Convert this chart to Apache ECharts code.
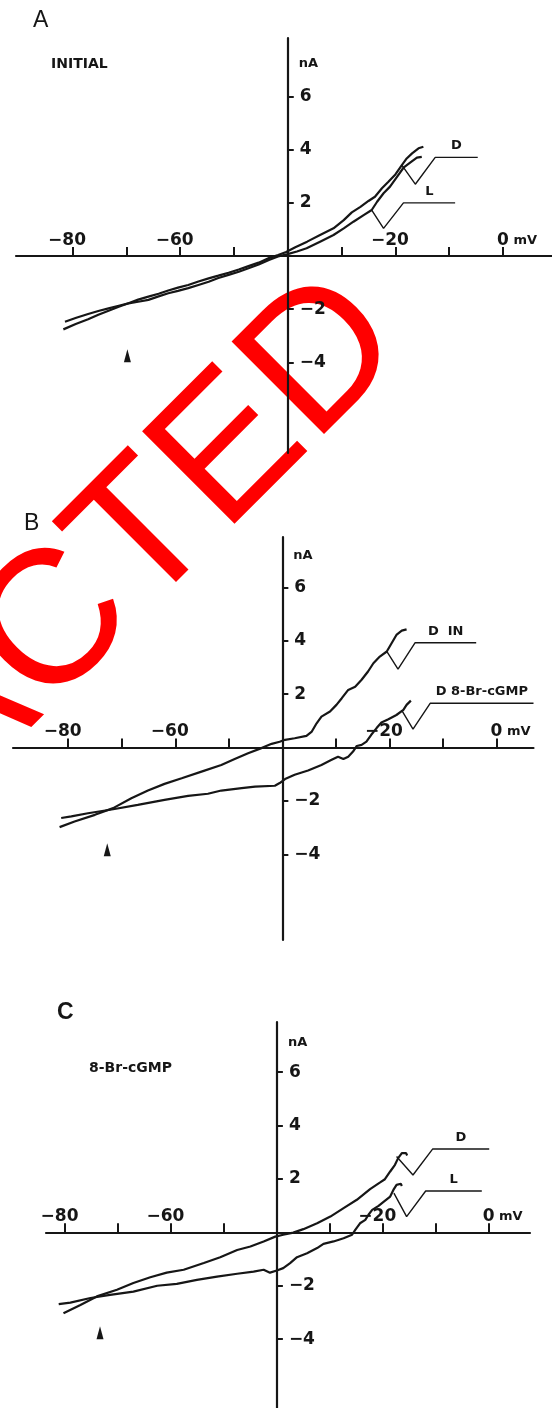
<!DOCTYPE html>
<html><head><meta charset="utf-8">
<style>html,body{margin:0;padding:0;background:#fff}#c{width:552px;height:1408px}</style>
<script src="https://cdn.jsdelivr.net/npm/echarts@6/dist/echarts.min.js"></script>
</head><body><div id="c"></div>
<script>
// ---------- tick values ----------
const xTicks = [-80, -70, -60, -50, -40, -30, -20, -10, 0];
const xTickLabels = [-80, -60, -20, 0];
const yTicks = [-4, -2, 2, 4, 6];
const yAxisCross = -40;   // mV value where the current axis crosses the voltage axis

// ---------- panel texts ----------
const panelLetters = ['A', 'B', 'C'];
const panelSubtitles = ['INITIAL', '', '8-Br-cGMP'];
const curveNamesA = ['D', 'L'];
const curveNamesB = ['D  IN', 'D 8-Br-cGMP'];
const curveNamesC = ['D', 'L'];

// ---------- Panel A (mV, nA) ----------
const A_D = [[-81.7,-2.76],[-79.4,-2.56],[-77.1,-2.38],[-75.2,-2.21],[-73.3,-2.06],[-71.4,-1.91],[-69.6,-1.78],[-67.8,-1.64],[-65.9,-1.53],[-64.0,-1.42],[-62.2,-1.30],[-60.4,-1.19],[-58.5,-1.09],[-56.6,-0.96],[-54.7,-0.84],[-52.9,-0.74],[-51.0,-0.63],[-49.1,-0.51],[-47.3,-0.38],[-45.4,-0.25],[-43.5,-0.08],[-41.8,0.04],[-40.3,0.15],[-38.6,0.33],[-36.4,0.54],[-34.0,0.79],[-31.5,1.04],[-29.6,1.35],[-28.1,1.64],[-26.5,1.85],[-25.0,2.07],[-23.8,2.23],[-22.5,2.55],[-21.3,2.79],[-20.0,3.07],[-18.8,3.42],[-17.9,3.67],[-16.9,3.86],[-15.7,4.05],[-14.8,4.11]];
const A_L = [[-81.4,-2.47],[-79.3,-2.32],[-77.1,-2.18],[-75.2,-2.07],[-73.3,-1.97],[-71.4,-1.87],[-69.6,-1.78],[-67.8,-1.72],[-65.9,-1.65],[-64.0,-1.52],[-62.2,-1.40],[-60.4,-1.31],[-58.5,-1.21],[-56.6,-1.09],[-54.7,-0.97],[-52.9,-0.83],[-51.0,-0.71],[-49.1,-0.59],[-47.3,-0.46],[-45.4,-0.32],[-43.5,-0.15],[-41.8,-0.02],[-40.2,0.06],[-38.3,0.17],[-36.5,0.29],[-34.0,0.54],[-31.5,0.79],[-29.6,1.04],[-27.8,1.29],[-25.9,1.54],[-24.4,1.73],[-23.4,2.04],[-22.2,2.36],[-21.0,2.61],[-19.7,2.98],[-18.5,3.32],[-17.2,3.52],[-16.0,3.70],[-15.1,3.73]];
const A_leadD = [[-18.8,3.42],[-16.3,2.70],[-12.6,3.71],[-4.7,3.71]];
const A_leadL = [[-24.4,1.73],[-22.2,1.04],[-18.5,2.00],[-8.9,2.00]];
const A_arrow = [-69.8, -3.75];

// ---------- Panel B ----------
const B_IN = [[-81.6,-2.98],[-78.8,-2.77],[-75.0,-2.52],[-71.6,-2.27],[-68.2,-1.90],[-65.1,-1.61],[-62.0,-1.36],[-58.8,-1.15],[-55.1,-0.90],[-51.4,-0.65],[-48.9,-0.43],[-46.4,-0.21],[-43.9,-0.02],[-42.0,0.14],[-40.5,0.22],[-39.5,0.29],[-37.7,0.35],[-35.5,0.44],[-34.5,0.60],[-33.6,0.91],[-32.7,1.16],[-31.1,1.35],[-29.9,1.60],[-28.9,1.85],[-27.7,2.16],[-26.4,2.28],[-25.2,2.54],[-24.0,2.85],[-23.0,3.16],[-21.8,3.41],[-20.5,3.60],[-19.6,3.91],[-18.7,4.22],[-17.7,4.38],[-16.8,4.43]];
const B_BR = [[-81.3,-2.64],[-79.4,-2.58],[-76.3,-2.46],[-71.6,-2.31],[-67.0,-2.15],[-62.0,-1.96],[-57.6,-1.81],[-53.9,-1.73],[-51.4,-1.61],[-47.6,-1.52],[-45.1,-1.46],[-41.4,-1.43],[-40.5,-1.33],[-39.5,-1.18],[-37.7,-1.02],[-35.2,-0.86],[-32.7,-0.65],[-30.8,-0.46],[-29.6,-0.34],[-28.6,-0.43],[-27.7,-0.34],[-26.8,-0.15],[-26.1,0.06],[-25.2,0.10],[-24.3,0.22],[-23.4,0.48],[-22.4,0.73],[-21.5,0.94],[-20.2,1.06],[-18.7,1.22],[-17.4,1.41],[-16.8,1.60],[-16.0,1.76]];
const B_leadIN = [[-20.5,3.60],[-18.4,2.94],[-15.2,3.93],[-3.8,3.93]];
const B_leadBR = [[-17.7,1.39],[-15.6,0.69],[-12.4,1.66],[6.9,1.66]];
const B_arrow = [-72.7, -3.83];

// ---------- Panel C ----------
const C_D = [[-80.3,-3.03],[-77.1,-2.72],[-74.0,-2.40],[-70.2,-2.15],[-67.1,-1.90],[-63.9,-1.68],[-60.8,-1.51],[-57.6,-1.40],[-53.8,-1.15],[-50.7,-0.93],[-47.5,-0.66],[-45.0,-0.53],[-42.5,-0.34],[-40.3,-0.16],[-38.8,-0.09],[-36.9,-0.01],[-35.0,0.12],[-32.4,0.34],[-29.9,0.59],[-27.4,0.91],[-24.9,1.22],[-22.4,1.62],[-20.5,1.87],[-19.6,1.99],[-18.6,2.28],[-17.7,2.53],[-17.1,2.78],[-16.4,2.97],[-15.6,2.97],[-15.4,2.88]];
const C_L = [[-81.2,-2.69],[-79.0,-2.63],[-75.2,-2.46],[-71.5,-2.34],[-67.1,-2.22],[-62.6,-2.00],[-58.9,-1.93],[-55.1,-1.78],[-51.3,-1.66],[-47.5,-1.55],[-44.4,-1.47],[-42.5,-1.40],[-41.3,-1.51],[-40.0,-1.43],[-38.8,-1.34],[-37.5,-1.15],[-36.2,-0.93],[-34.3,-0.78],[-32.4,-0.59],[-31.2,-0.43],[-29.3,-0.34],[-27.4,-0.22],[-25.8,-0.09],[-25.2,0.09],[-24.3,0.34],[-23.3,0.47],[-22.7,0.66],[-22.0,0.84],[-20.8,0.99],[-19.8,1.15],[-18.6,1.34],[-18.0,1.59],[-17.4,1.78],[-16.6,1.82],[-16.4,1.74]];
const C_leadD = [[-17.4,2.84],[-14.3,2.15],[-10.6,3.12],[0.1,3.12]];
const C_leadL = [[-17.9,1.47],[-15.5,0.59],[-11.9,1.55],[-1.3,1.55]];
const C_arrow = [-73.4, -3.76];

const watermarkText = 'REDACTED';

// ---------- layout (pixels / axis extents) ----------
const INK = '#161616';
const NUMFONT = 'DejaVu Sans';
const layouts = [
  { grid: { left: 16, right: 0, top: 38, height: 415 }, x: [-90.5, 9.1], y: [-7.41, 8.2], nameGap: -26,
    title: { left: 33, top: 9 }, sub: { left: 51, top: 57 } },
  { grid: { left: 13, right: 18.5, top: 537, height: 403 }, x: [-90.3, 6.9], y: [-7.21, 7.89], nameGap: -19,
    title: { left: 24, top: 512 }, sub: null },
  { grid: { left: 46, right: 22, top: 1022, height: 386 }, x: [-83.6, 7.8], y: [-6.58, 7.88], nameGap: -21,
    title: { left: 57, top: 1001 }, sub: { left: 89, top: 1061 } }
];
const panels = [
  { curves: [A_D, A_L], leads: [A_leadD, A_leadL], names: curveNamesA, arrow: A_arrow },
  { curves: [B_IN, B_BR], leads: [B_leadIN, B_leadBR], names: curveNamesB, arrow: B_arrow },
  { curves: [C_D, C_L], leads: [C_leadD, C_leadL], names: curveNamesC, arrow: C_arrow }
];

function fmtNum(v) { return v < 0 ? '\u2212' + (-v) : String(v); }

const grids = [], xAxes = [], yAxes = [], series = [], titles = [];
layouts.forEach((L, i) => {
  grids.push(Object.assign({ containLabel: false, outerBoundsMode: 'none' }, L.grid));
  xAxes.push({
    gridIndex: i, type: 'value', min: L.x[0], max: L.x[1], position: 'bottom', offset: 0,
    axisLine: { onZero: false, lineStyle: { color: INK, width: 2.2 } },
    axisTick: { show: true, inside: true, length: 9, customValues: xTicks, lineStyle: { color: INK, width: 2 } },
    axisLabel: {
      inside: true, margin: 7, customValues: xTickLabels, color: INK,
      formatter: v => v === 0 ? '{p|\u00a0}{n|0}{u|\u00a0mV}' : (v < 0 ? '{n|' + fmtNum(v) + '}{q|\u00a0}' : '{n|' + v + '}'),
      rich: {
        n: { fontSize: 17, fontWeight: 'bold', fontFamily: NUMFONT, color: INK },
        u: { fontSize: 13, fontWeight: 'bold', fontFamily: NUMFONT, color: INK },
        p: { width: 28 }, q: { width: 11 }
      }
    },
    splitLine: { show: false }
  });
  yAxes.push({
    gridIndex: i, type: 'value', min: L.y[0], max: L.y[1], position: 'left', offset: 0,
    axisLine: { onZero: false, lineStyle: { color: INK, width: 2.2 } },
    axisTick: { show: true, inside: true, length: 6, customValues: yTicks, lineStyle: { color: INK, width: 2 } },
    axisLabel: { inside: true, margin: 12, customValues: yTicks, formatter: fmtNum, fontSize: 17, fontWeight: 'bold', fontFamily: NUMFONT, color: INK },
    name: 'nA', nameLocation: 'end', nameGap: L.nameGap, nameMoveOverlap: false,
    nameTextStyle: { fontSize: 13, fontWeight: 'bold', fontFamily: NUMFONT, color: INK, align: 'left', verticalAlign: 'middle', padding: [0, 0, 0, 11] },
    splitLine: { show: false }
  });
  const P = panels[i];
  P.curves.forEach((c, j) => {
    series.push({ type: 'line', name: P.names[j], xAxisIndex: i, yAxisIndex: i, data: c, symbol: 'none', showSymbol: false,
      lineStyle: { color: INK, width: 2.2 }, z: 3, clip: false, silent: true });
  });
  P.leads.forEach((c, j) => {
    series.push({ type: 'line', xAxisIndex: i, yAxisIndex: i, data: c, symbol: 'none', showSymbol: false,
      lineStyle: { color: INK, width: 1.4 }, z: 3, clip: false, silent: true });
    const a = c[c.length - 2], b = c[c.length - 1];
    series.push({ type: 'scatter', xAxisIndex: i, yAxisIndex: i, symbolSize: 0, silent: true, clip: false,
      itemStyle: { opacity: 1 },
      data: [{ value: [(a[0] + b[0]) / 2, b[1]], name: P.names[j] }],
      label: { show: true, position: 'top', distance: 5, formatter: '{b}', opacity: 1, fontSize: 13, fontWeight: 'bold', fontFamily: NUMFONT, color: INK } });
  });
  series.push({ type: 'scatter', xAxisIndex: i, yAxisIndex: i, symbol: 'triangle', symbolSize: [7, 13], silent: true,
    itemStyle: { color: INK, opacity: 1 }, data: [P.arrow] });
  titles.push({ text: panelLetters[i], left: L.title.left, top: L.title.top, padding: 0,
    textStyle: { fontSize: 23, fontWeight: i === 2 ? 'bold' : 'normal', fontFamily: 'Liberation Sans', color: INK } });
  if (L.sub) titles.push({ text: panelSubtitles[i], left: L.sub.left, top: L.sub.top, padding: 0,
    textStyle: { fontSize: 14, fontWeight: 'bold', fontFamily: NUMFONT, color: INK } });
});

const chart = echarts.init(document.getElementById('c'), null, { renderer: 'canvas' });
chart.setOption({
  backgroundColor: '#ffffff',
  animation: false,
  title: titles,
  grid: grids, xAxis: xAxes, yAxis: yAxes, series: series,
  graphic: { elements: [{
    type: 'text', x: 373, y: 311, rotation: Math.PI / 4, z: -1, silent: true,
    style: { text: watermarkText, font: '190px "Liberation Sans"', fill: '#ff0000', align: 'right', verticalAlign: 'middle' }
  }] }
});

// Move each axis (line, ticks and labels) so it crosses the other at the right value,
// using the library's own scales to find the positions.
const xOff = [], yOff = [];
layouts.forEach((L, i) => {
  const xCross = chart.convertToPixel({ xAxisIndex: i }, yAxisCross);
  const xLeft = chart.convertToPixel({ xAxisIndex: i }, L.x[0]);
  const yZero = chart.convertToPixel({ yAxisIndex: i }, 0);
  const yBottom = chart.convertToPixel({ yAxisIndex: i }, L.y[0]);
  xOff.push({ offset: yZero - yBottom });
  yOff.push({ offset: xLeft - xCross });
});
chart.setOption({ xAxis: xOff, yAxis: yOff });
</script></body></html>
